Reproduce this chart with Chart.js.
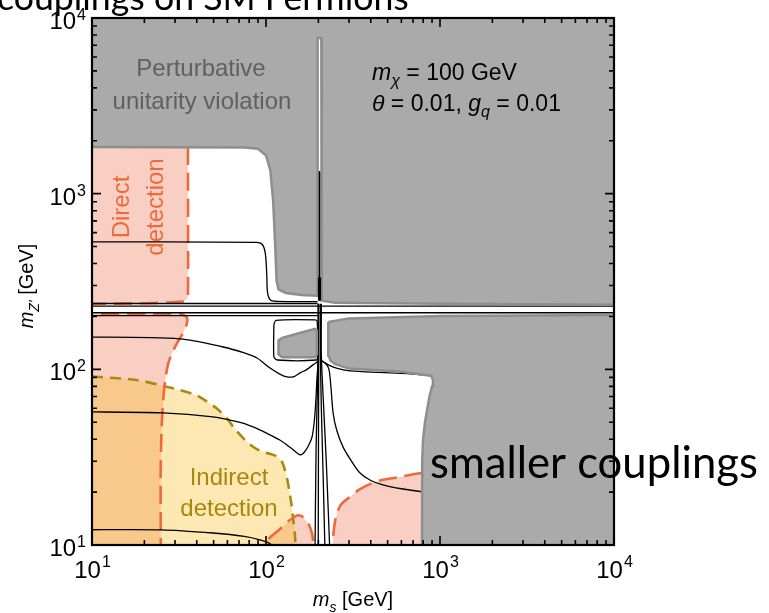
<!DOCTYPE html>
<html><head><meta charset="utf-8">
<script src="https://cdn.jsdelivr.net/npm/chart.js@4.4.1/dist/chart.umd.min.js"></script>
<style>html,body{margin:0;padding:0;background:#fff;}#wrap{width:769px;height:613px;}</style>
</head><body><div id="wrap"><canvas id="c" width="769" height="613"></canvas></div>
<script>
// ---- data (m_s [GeV], m_Z' [GeV]) ----
const xTickValues = [10, 100, 1000, 10000];
const yTickValues = [10, 100, 1000, 10000];
const tickExponents = ['1', '2', '3', '4'];

const grayUpper = [[8,12000],[8,1845],[75,1830],[90,1800],[100,1650],[106,1350],[110,900],[113,500],[115,320],[118,285],[130,272],[160,265],[197,262],[198,7700],[208,7700],[209,246],[250,239],[1000,236],[12000,233],[12000,12000],[8,12000]];
const grayLower = [[228,186],[300,195],[1000,201],[12000,204],[12000,8],[788,8],[790,30],[799,40],[820,50],[841,58],[870,70],[900,80],[911,87],[890,92],[600,97],[300,101],[250,107],[235,112],[229,120],[228,186]];
const graySmall = [[118,128],[118,146],[124,151],[160,162],[191,170],[196,166],[196,122],[192,117],[124,117],[118,122],[118,128]];
const smallOutline = [[111,180],[114,190],[192,191],[197,187],[198,118],[195,113],[116,113],[111,118],[111,180]];

const directUpper = [[35.6,1845],[35.6,262],[35,250],[33,243],[20,238],[8,236]];
const directLower = [[8,207],[30,207],[33.5,204],[35.2,196],[35,180],[33.5,162],[30.8,141],[28.5,120],[27.3,106],[26.3,85],[25.6,65],[25.1,45],[24.8,25],[24.9,8]];
const directHump = [[92,8],[95,10],[105,11],[120,12.3],[135,13.7],[150,14.7],[160,14.6],[170,13.8],[178,12.8],[184,11.6],[187,10],[188,8]];
const directRight = [[240,8],[241,10],[245,12],[250,13.8],[256,15.2],[270,17],[304,18.8],[347,20.8],[412,22.6],[470,23.5],[589,24.4],[788,25.7],[2000,27],[12000,28]];
const indirect = [[8,91.5],[10,91],[18,87],[25.6,80.5],[32,76.3],[40,71],[45.8,65.5],[52,60],[59.7,52.5],[66,46],[75.7,39.6],[85,36],[95,34],[108,32.8],[118,31.5],[124,29.5],[128,27],[132,24],[136,20.5],[140,17],[144,13.5],[147,11],[149,8]];

const contourUpper = [[8,531],[88,528],[95,515],[99,460],[101,350],[102,275],[106,248],[115,244],[198,243]];
const bandA = [[8,237],[198,237]];
const bandB = [[8,229],[12000,229]];
const bandC = [[8,210],[12000,210]];
const bandD = [[8,202],[198,202]];
const contourA1 = [[8,153],[32,149],[56.6,134],[75,124],[88.8,116],[105,102],[120,94],[132,90.5],[145,91],[157,95.4],[172,100],[186,106],[199,111]];
const contourA2 = [[206,113],[215,110],[233,105],[260,101],[304,98],[450,96],[650,94.5],[900,92]];
const contourB1 = [[8,57.3],[25.6,56.5],[49.6,53.6],[70,50],[84.2,47],[100,43.5],[120,39.6],[140,35.5],[157,32.6],[165,33.5],[176,37],[184,41.2],[190,52],[194,70],[196,87],[198,100],[199,110]];
const contourB2 = [[206,112],[220,108],[230,100],[236,80],[243,56.5],[255,45],[277,36.2],[310,30],[347,25.7],[400,23.3],[470,22],[600,20.9],[788,20.1],[1000,19.7]];
const contourC = [[8,12.2],[25,12.2],[49.6,11.7],[75,11.2],[92.4,10.7],[105,10.2],[112,9.5]];
const peakL1 = [[199,236],[199,120],[197,70],[194,35],[191,8]];
const peakL2 = [[201,236],[201,120],[200.5,60],[199.5,8]];
const peakR1 = [[205.5,236],[205.5,120],[208,60],[213,25],[219,8]];
const peakR2 = [[208,236],[208,120],[213,70],[222,30],[234,8]];
const spikeCore = [[203,1330],[203,250]];
const spikeBase = [[203,330],[203,250]];

// ---- styles ----
const GRAY = '#aaaaaa', GRAYB = '#8e8e8e', PINK = '#f9cfc3', ORANGE = '#ee6a3b', OLIVE = '#a98a10';
const pts = a => a.map(p => ({x: p[0], y: p[1]}));
function fillDS(a, color, border, bw) {
  return {data: pts(a), fill: 'shape', backgroundColor: color, borderColor: border || 'rgba(0,0,0,0)', borderWidth: bw || 0, pointRadius: 0, tension: 0};
}
function lineDS(a, color, bw, dash, tension) {
  return {data: pts(a), fill: false, borderColor: color, borderWidth: bw, borderDash: dash || [], pointRadius: 0, tension: tension || 0, borderCapStyle: 'butt', borderJoinStyle: 'round'};
}
const layers = [
  fillDS([...directUpper, [8,1845]], PINK),
  fillDS([...directLower, [8,8]], PINK),
  fillDS(directHump, PINK),
  fillDS([...directRight, [12000,8]], PINK),
  fillDS([...indirect, [8,8]], 'rgba(249,189,38,0.35)'),
  lineDS(indirect.slice(1), OLIVE, 2.6, [11, 7], 0.3),
  lineDS(directUpper.slice(0,5).concat([[10,236]]), ORANGE, 2.6, [18, 8], 0.3),
  lineDS(directLower.slice(0), ORANGE, 2.6, [18, 8], 0.3),
  lineDS(directHump, ORANGE, 2.6, [18, 8], 0.3),
  lineDS(directRight, ORANGE, 2.6, [18, 8], 0.3),
  lineDS(contourUpper, '#000', 1.3, null, 0.3),
  lineDS(bandA, '#000', 1.3),
  lineDS(bandB, '#000', 1.3),
  lineDS(bandC, '#000', 1.3),
  lineDS(bandD, '#000', 1.3),
  lineDS(contourA1, '#000', 1.3, null, 0.3),
  lineDS(contourA2, '#000', 1.3, null, 0.3),
  lineDS(contourB1, '#000', 1.3, null, 0.3),
  lineDS(contourB2, '#000', 1.3, null, 0.3),
  lineDS(contourC, '#000', 1.3, null, 0.3),
  lineDS(peakL1, '#000', 1.3, null, 0.3),
  lineDS(peakL2, '#000', 1.3, null, 0.3),
  lineDS(peakR1, '#000', 1.3, null, 0.3),
  lineDS(peakR2, '#000', 1.3, null, 0.3),
  fillDS(grayLower, GRAY, GRAYB, 2.5),
  lineDS(smallOutline, '#000', 1.3, null, 0.25),
  fillDS(graySmall, GRAY, GRAYB, 2.5),
  fillDS(grayUpper, GRAY, GRAYB, 2.5),
  lineDS(spikeCore, '#000', 1.6),
  lineDS(spikeBase, '#000', 3.2)
];
layers.forEach((d, i) => { d.order = layers.length - i; });

function rich(ctx, parts, x, y, align, size, family, color) {
  let w = 0;
  const items = parts.map(([t, st]) => {
    st = st || '';
    const italic = st.includes('i');
    const sub = st.includes('sub'), sup = st.includes('sup');
    const fs = (sub || sup) ? size * 0.7 : size;
    const font = (italic ? 'italic ' : '') + fs + 'px ' + family;
    ctx.font = font;
    const tw = ctx.measureText(t).width;
    w += tw;
    return {t, font, tw, dy: sub ? size * 0.28 : sup ? -size * 0.45 : 0};
  });
  let sx = align === 'center' ? x - w / 2 : align === 'right' ? x - w : x;
  ctx.fillStyle = color; ctx.textAlign = 'left'; ctx.textBaseline = 'alphabetic';
  items.forEach(it => { ctx.font = it.font; ctx.fillText(it.t, sx, y + it.dy); sx += it.tw; });
}
function fitFont(ctx, text, family, width) {
  ctx.font = '100px ' + family;
  return 100 * width / ctx.measureText(text).width;
}

const decor = {
  id: 'decor',
  afterDraw(chart) {
    const ctx = chart.ctx, a = chart.chartArea, xs = chart.scales.x, ys = chart.scales.y;
    const F = '"Liberation Sans", Arial, sans-serif';
    ctx.save();
    // ticks
    ctx.strokeStyle = '#000'; ctx.lineWidth = 1.6;
    for (let d = 0; d < xTickValues.length; d++) {
      for (let k = 1; k <= 9; k++) {
        const v = xTickValues[d] * k;
        if (v > 10000) break;
        const L = k === 1 ? 9 : 5;
        const px = xs.getPixelForValue(v);
        ctx.beginPath(); ctx.moveTo(px, a.bottom); ctx.lineTo(px, a.bottom - L);
        ctx.moveTo(px, a.top); ctx.lineTo(px, a.top + L); ctx.stroke();
        const py = ys.getPixelForValue(yTickValues[d] * k);
        ctx.beginPath(); ctx.moveTo(a.left, py); ctx.lineTo(a.left + L, py);
        ctx.moveTo(a.right, py); ctx.lineTo(a.right - L, py); ctx.stroke();
      }
    }
    ctx.lineWidth = 2.2;
    ctx.strokeRect(a.left, a.top, a.right - a.left, a.bottom - a.top);
    // tick labels
    xTickValues.forEach((v, i) => {
      const px = xs.getPixelForValue(v);
      ctx.font = '24px ' + F; const w1 = ctx.measureText('10').width;
      ctx.font = '16px ' + F; const w2 = ctx.measureText(tickExponents[i]).width;
      const sx = px - (w1 + w2) / 2;
      ctx.fillStyle = '#000'; ctx.textAlign = 'left'; ctx.textBaseline = 'alphabetic';
      ctx.font = '24px ' + F; ctx.fillText('10', sx, a.bottom + 33);
      ctx.font = '16px ' + F; ctx.fillText(tickExponents[i], sx + w1 + 1, a.bottom + 22);
    });
    yTickValues.forEach((v, i) => {
      const py = ys.getPixelForValue(v);
      ctx.font = '16px ' + F; const w2 = ctx.measureText(tickExponents[i]).width;
      ctx.font = '24px ' + F; const w1 = ctx.measureText('10').width;
      const ex = a.left - 6 - w2;
      ctx.fillText('10', ex - w1 - 1, py + 11);
      ctx.font = '16px ' + F; ctx.fillText(tickExponents[i], ex, py + 2);
    });
    // axis titles
    rich(ctx, [['m', 'i'], ['s', 'isub'], [' [GeV]']], 353, 606, 'center', 20, F, '#000');
    ctx.save(); ctx.translate(33, 286); ctx.rotate(-Math.PI / 2);
    rich(ctx, [['m', 'i'], ["Z'", 'isub'], [' [GeV]']], 0, 0, 'center', 20, F, '#000');
    ctx.restore();
    // region labels
    ctx.textAlign = 'center'; ctx.textBaseline = 'middle';
    ctx.fillStyle = '#606060'; ctx.font = '24px ' + F;
    ctx.fillText('Perturbative', 201, 69);
    ctx.fillText('unitarity violation', 202, 102);
    ctx.fillStyle = '#a8870c';
    ctx.fillText('Indirect', 229, 478);
    ctx.fillText('detection', 229, 509);
    ctx.fillStyle = ORANGE;
    ctx.save(); ctx.translate(122, 207); ctx.rotate(-Math.PI / 2); ctx.fillText('Direct', 0, 0); ctx.restore();
    ctx.save(); ctx.translate(156, 207); ctx.rotate(-Math.PI / 2); ctx.fillText('detection', 0, 0); ctx.restore();
    rich(ctx, [['m', 'i'], ['\u03C7', 'isub'], [' = 100 GeV']], 372, 80, 'left', 23, F, '#000');
    rich(ctx, [['\u03B8', 'i'], [' = 0.01, '], ['g', 'i'], ['q', 'isub'], [' = 0.01']], 372, 111, 'left', 23, F, '#000');
    // big slide texts
    const G = 'Lato, "Open Sans", sans-serif';
    const s1 = fitFont(ctx, 'smaller couplings', G, 328);
    ctx.font = s1 + 'px ' + G; ctx.fillStyle = '#000'; ctx.textAlign = 'left'; ctx.textBaseline = 'alphabetic';
    ctx.fillText('smaller couplings', 430, 478);
    const s2 = fitFont(ctx, 'couplings on SM Fermions', G, 412);
    ctx.font = s2 + 'px ' + G;
    ctx.fillText('couplings on SM Fermions', -3, 10);
    ctx.restore();
  }
};

new Chart(document.getElementById('c'), {
  type: 'line',
  data: {datasets: layers},
  options: {
    responsive: false, animation: false, events: [],
    layout: {padding: {left: 92, right: 155, top: 18, bottom: 68}},
    scales: {
      x: {type: 'logarithmic', min: 10, max: 10000, display: false},
      y: {type: 'logarithmic', min: 10, max: 10000, display: false}
    },
    plugins: {legend: {display: false}, tooltip: {enabled: false}}
  },
  plugins: [decor]
});
</script></body></html>
